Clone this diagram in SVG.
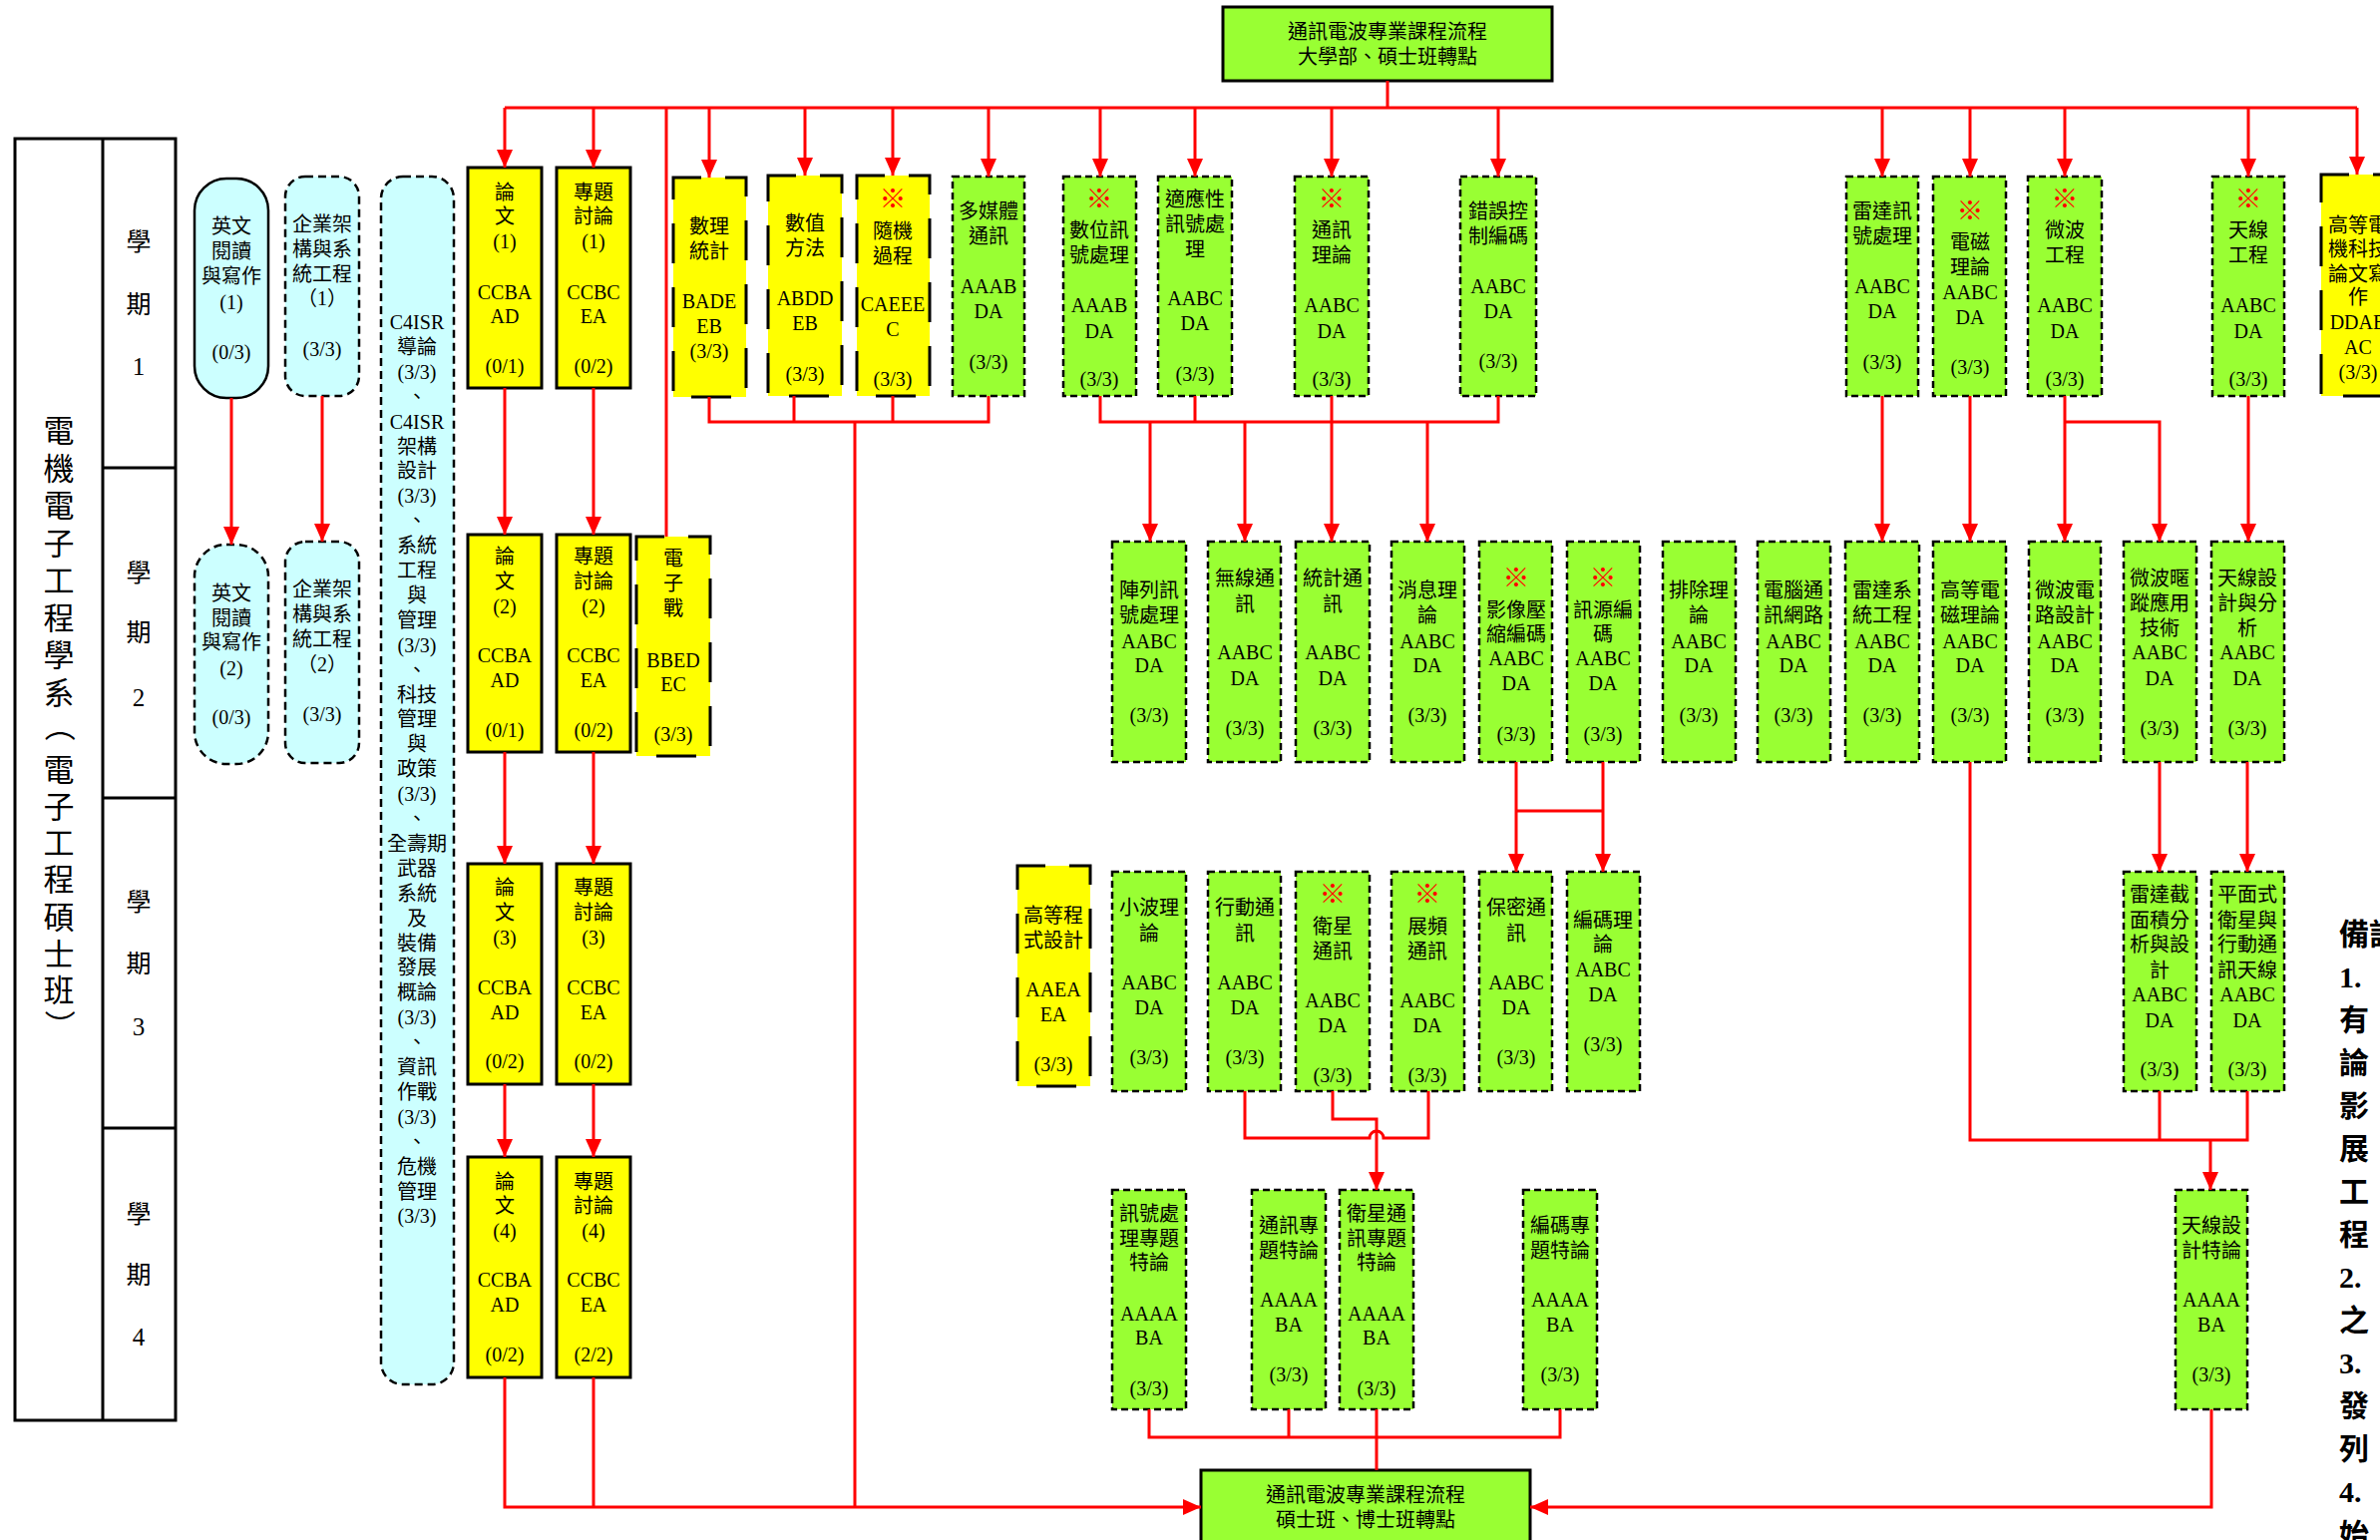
<svg xmlns="http://www.w3.org/2000/svg" width="2386" height="1544" viewBox="0 0 2386 1544">
<style>
.t{font-family:"Liberation Serif","Noto Sans CJK TC",serif;font-size:20px;text-anchor:middle;dominant-baseline:central;fill:#000}
.m{fill:#FF0000;font-size:27px}
.g{fill:#99FF33;stroke:#000;stroke-width:2.5;stroke-dasharray:7 4}
.y{fill:#FFFF00;stroke:#000;stroke-width:3}
.yd{fill:#FFFF00;stroke:#000;stroke-width:3;stroke-dasharray:40 24;stroke-dashoffset:12}
.b{fill:#CCFFFF;stroke:#000;stroke-width:2.5}
.bd{fill:#CCFFFF;stroke:#000;stroke-width:2.5;stroke-dasharray:8 5}
.hub{fill:#99FF33;stroke:#000;stroke-width:3}
.c{fill:none;stroke:#FF0000;stroke-width:3}
.tbl{fill:none;stroke:#000;stroke-width:3}
.lbl{font-family:"Liberation Serif","Noto Sans CJK TC",serif;text-anchor:middle;dominant-baseline:central;fill:#000}
.note{font-family:"Liberation Serif","Noto Sans CJK TC",serif;font-size:30px;font-weight:bold;dominant-baseline:central;fill:#000}
</style>
<defs>
<marker id="ah" markerWidth="18" markerHeight="16" refX="18" refY="8" orient="auto" markerUnits="userSpaceOnUse"><path d="M0,0 L18,8 L0,16 z" fill="#FF0000"/></marker>
</defs>
<rect x="0" y="0" width="2386" height="1544" fill="#FFFFFF"/>

<g id="table">
<rect class="tbl" x="15" y="139" width="161" height="1285"/>
<path class="tbl" d="M103,139 V1424 M103,469 H176 M103,800 H176 M103,1131 H176"/>
<text class="lbl" font-size="31"><tspan x="59" y="432">電</tspan><tspan x="59" y="470">機</tspan><tspan x="59" y="507">電</tspan><tspan x="59" y="545">子</tspan><tspan x="59" y="582">工</tspan><tspan x="59" y="620">程</tspan><tspan x="59" y="657">學</tspan><tspan x="59" y="695">系</tspan></text>
<text class="lbl" font-size="31" transform="translate(59,728) rotate(90)">（</text>
<text class="lbl" font-size="31"><tspan x="59" y="772">電</tspan><tspan x="59" y="809">子</tspan><tspan x="59" y="845">工</tspan><tspan x="59" y="882">程</tspan><tspan x="59" y="920">碩</tspan><tspan x="59" y="957">士</tspan><tspan x="59" y="993">班</tspan></text>
<text class="lbl" font-size="31" transform="translate(59,1028) rotate(90)">）</text>
<text class="lbl" font-size="25"><tspan x="139" y="242">學</tspan><tspan x="139" y="305">期</tspan><tspan x="139" y="367">1</tspan></text>
<text class="lbl" font-size="25"><tspan x="139" y="574">學</tspan><tspan x="139" y="634">期</tspan><tspan x="139" y="699">2</tspan></text>
<text class="lbl" font-size="25"><tspan x="139" y="904">學</tspan><tspan x="139" y="966">期</tspan><tspan x="139" y="1029">3</tspan></text>
<text class="lbl" font-size="25"><tspan x="139" y="1217">學</tspan><tspan x="139" y="1278">期</tspan><tspan x="139" y="1340">4</tspan></text>
</g>

<g id="top-hub"><rect class="hub" x="1226" y="7" width="330" height="74"/><text class="t" font-size="21"><tspan x="1391" y="32">通訊電波專業課程流程</tspan><tspan x="1391" y="57">大學部、碩士班轉點</tspan></text></g>
<g id="bottom-hub"><rect class="hub" x="1204" y="1474" width="330" height="100"/><text class="t" font-size="21"><tspan x="1369" y="1499">通訊電波專業課程流程</tspan><tspan x="1369" y="1524">碩士班、博士班轉點</tspan></text></g>

<g id="eng1"><rect class="b" x="195" y="179" width="74" height="220" rx="32"/><text class="t"><tspan x="232" y="227">英文</tspan><tspan x="232" y="252">閱讀</tspan><tspan x="232" y="277">與寫作</tspan><tspan x="232" y="303">(1)</tspan><tspan x="232" y="353">(0/3)</tspan></text></g>
<g id="ea1"><rect class="bd" x="286" y="177" width="74" height="220" rx="20"/><text class="t"><tspan x="323" y="225">企業架</tspan><tspan x="323" y="250">構與系</tspan><tspan x="323" y="275">統工程</tspan><tspan x="323" y="299">（1）</tspan><tspan x="323" y="350">(3/3)</tspan></text></g>
<g id="c4isr"><rect class="bd" x="382" y="177" width="73" height="1211" rx="22"/><text class="t"><tspan x="418" y="323">C4ISR</tspan><tspan x="418" y="348">導論</tspan><tspan x="418" y="373">(3/3)</tspan><tspan x="418" y="398">、</tspan><tspan x="418" y="423">C4ISR</tspan><tspan x="418" y="448">架構</tspan><tspan x="418" y="472">設計</tspan><tspan x="418" y="497">(3/3)</tspan><tspan x="418" y="522">、</tspan><tspan x="418" y="547">系統</tspan><tspan x="418" y="572">工程</tspan><tspan x="418" y="597">與</tspan><tspan x="418" y="622">管理</tspan><tspan x="418" y="647">(3/3)</tspan><tspan x="418" y="672">、</tspan><tspan x="418" y="697">科技</tspan><tspan x="418" y="721">管理</tspan><tspan x="418" y="746">與</tspan><tspan x="418" y="771">政策</tspan><tspan x="418" y="796">(3/3)</tspan><tspan x="418" y="821">、</tspan><tspan x="418" y="846">全壽期</tspan><tspan x="418" y="871">武器</tspan><tspan x="418" y="896">系統</tspan><tspan x="418" y="921">及</tspan><tspan x="418" y="946">裝備</tspan><tspan x="418" y="970">發展</tspan><tspan x="418" y="995">概論</tspan><tspan x="418" y="1020">(3/3)</tspan><tspan x="418" y="1045">、</tspan><tspan x="418" y="1070">資訊</tspan><tspan x="418" y="1095">作戰</tspan><tspan x="418" y="1120">(3/3)</tspan><tspan x="418" y="1145">、</tspan><tspan x="418" y="1170">危機</tspan><tspan x="418" y="1195">管理</tspan><tspan x="418" y="1219">(3/3)</tspan></text></g>

<g id="thesis1"><rect class="y" x="469" y="168" width="74" height="221"/><text class="t"><tspan x="506" y="193">論</tspan><tspan x="506" y="217">文</tspan><tspan x="506" y="242">(1)</tspan><tspan x="506" y="293">CCBA</tspan><tspan x="506" y="317">AD</tspan><tspan x="506" y="367">(0/1)</tspan></text></g>
<g id="sem1"><rect class="y" x="558" y="168" width="74" height="221"/><text class="t"><tspan x="595" y="193">專題</tspan><tspan x="595" y="217">討論</tspan><tspan x="595" y="242">(1)</tspan><tspan x="595" y="293">CCBC</tspan><tspan x="595" y="317">EA</tspan><tspan x="595" y="367">(0/2)</tspan></text></g>
<g id="stat"><rect class="yd" x="675" y="178" width="73" height="220"/><text class="t"><tspan x="711" y="227">數理</tspan><tspan x="711" y="252">統計</tspan><tspan x="711" y="302">BADE</tspan><tspan x="711" y="327">EB</tspan><tspan x="711" y="352">(3/3)</tspan></text></g>
<g id="numeric"><rect class="yd" x="770" y="176" width="74" height="221"/><text class="t"><tspan x="807" y="224">數值</tspan><tspan x="807" y="249">方法</tspan><tspan x="807" y="299">ABDD</tspan><tspan x="807" y="324">EB</tspan><tspan x="807" y="375">(3/3)</tspan></text></g>
<g id="random"><rect class="yd" x="859" y="176" width="73" height="221"/><text class="t"><tspan class="m" x="895" y="200">※</tspan><tspan x="895" y="232">隨機</tspan><tspan x="895" y="257">過程</tspan><tspan x="895" y="305">CAEEE</tspan><tspan x="895" y="330">C</tspan><tspan x="895" y="380">(3/3)</tspan></text></g>
<g id="multimedia"><rect class="g" x="955" y="177" width="72" height="220"/><text class="t"><tspan x="991" y="212">多媒體</tspan><tspan x="991" y="237">通訊</tspan><tspan x="991" y="287">AAAB</tspan><tspan x="991" y="312">DA</tspan><tspan x="991" y="363">(3/3)</tspan></text></g>
<g id="dsp"><rect class="g" x="1066" y="177" width="73" height="220"/><text class="t"><tspan class="m" x="1102" y="200">※</tspan><tspan x="1102" y="231">數位訊</tspan><tspan x="1102" y="256">號處理</tspan><tspan x="1102" y="306">AAAB</tspan><tspan x="1102" y="332">DA</tspan><tspan x="1102" y="380">(3/3)</tspan></text></g>
<g id="adsp"><rect class="g" x="1161" y="177" width="74" height="220"/><text class="t"><tspan x="1198" y="200">適應性</tspan><tspan x="1198" y="225">訊號處</tspan><tspan x="1198" y="250">理</tspan><tspan x="1198" y="299">AABC</tspan><tspan x="1198" y="324">DA</tspan><tspan x="1198" y="375">(3/3)</tspan></text></g>
<g id="commtheory"><rect class="g" x="1298" y="177" width="74" height="220"/><text class="t"><tspan class="m" x="1335" y="200">※</tspan><tspan x="1335" y="231">通訊</tspan><tspan x="1335" y="256">理論</tspan><tspan x="1335" y="306">AABC</tspan><tspan x="1335" y="332">DA</tspan><tspan x="1335" y="380">(3/3)</tspan></text></g>
<g id="ecc"><rect class="g" x="1464" y="177" width="76" height="220"/><text class="t"><tspan x="1502" y="212">錯誤控</tspan><tspan x="1502" y="237">制編碼</tspan><tspan x="1502" y="287">AABC</tspan><tspan x="1502" y="312">DA</tspan><tspan x="1502" y="362">(3/3)</tspan></text></g>
<g id="radarsp"><rect class="g" x="1851" y="177" width="72" height="220"/><text class="t"><tspan x="1887" y="212">雷達訊</tspan><tspan x="1887" y="237">號處理</tspan><tspan x="1887" y="287">AABC</tspan><tspan x="1887" y="312">DA</tspan><tspan x="1887" y="363">(3/3)</tspan></text></g>
<g id="emtheory"><rect class="g" x="1938" y="177" width="73" height="220"/><text class="t"><tspan class="m" x="1975" y="212">※</tspan><tspan x="1975" y="243">電磁</tspan><tspan x="1975" y="268">理論</tspan><tspan x="1975" y="293">AABC</tspan><tspan x="1975" y="318">DA</tspan><tspan x="1975" y="368">(3/3)</tspan></text></g>
<g id="microwave"><rect class="g" x="2033" y="177" width="74" height="220"/><text class="t"><tspan class="m" x="2070" y="200">※</tspan><tspan x="2070" y="231">微波</tspan><tspan x="2070" y="256">工程</tspan><tspan x="2070" y="306">AABC</tspan><tspan x="2070" y="332">DA</tspan><tspan x="2070" y="380">(3/3)</tspan></text></g>
<g id="antenna"><rect class="g" x="2218" y="177" width="72" height="220"/><text class="t"><tspan class="m" x="2254" y="200">※</tspan><tspan x="2254" y="231">天線</tspan><tspan x="2254" y="256">工程</tspan><tspan x="2254" y="306">AABC</tspan><tspan x="2254" y="332">DA</tspan><tspan x="2254" y="380">(3/3)</tspan></text></g>
<g id="writing"><rect class="yd" x="2327" y="175" width="74" height="222"/><text class="t"><tspan x="2364" y="226">高等電</tspan><tspan x="2364" y="250">機科技</tspan><tspan x="2364" y="275">論文寫</tspan><tspan x="2364" y="298">作</tspan><tspan x="2364" y="323">DDAB</tspan><tspan x="2364" y="348">AC</tspan><tspan x="2364" y="373">(3/3)</tspan></text></g>

<g id="eng2"><rect class="bd" x="195" y="546" width="74" height="220" rx="32"/><text class="t"><tspan x="232" y="595">英文</tspan><tspan x="232" y="620">閱讀</tspan><tspan x="232" y="644">與寫作</tspan><tspan x="232" y="670">(2)</tspan><tspan x="232" y="719">(0/3)</tspan></text></g>
<g id="ea2"><rect class="bd" x="286" y="543" width="74" height="222" rx="20"/><text class="t"><tspan x="323" y="591">企業架</tspan><tspan x="323" y="616">構與系</tspan><tspan x="323" y="641">統工程</tspan><tspan x="323" y="666">（2）</tspan><tspan x="323" y="716">(3/3)</tspan></text></g>
<g id="thesis2"><rect class="y" x="469" y="536" width="74" height="218"/><text class="t"><tspan x="506" y="558">論</tspan><tspan x="506" y="583">文</tspan><tspan x="506" y="608">(2)</tspan><tspan x="506" y="657">CCBA</tspan><tspan x="506" y="682">AD</tspan><tspan x="506" y="732">(0/1)</tspan></text></g>
<g id="sem2"><rect class="y" x="558" y="536" width="74" height="218"/><text class="t"><tspan x="595" y="558">專題</tspan><tspan x="595" y="583">討論</tspan><tspan x="595" y="608">(2)</tspan><tspan x="595" y="657">CCBC</tspan><tspan x="595" y="682">EA</tspan><tspan x="595" y="732">(0/2)</tspan></text></g>
<g id="ew"><rect class="yd" x="638" y="538" width="74" height="220"/><text class="t"><tspan x="675" y="560">電</tspan><tspan x="675" y="585">子</tspan><tspan x="675" y="610">戰</tspan><tspan x="675" y="662">BBED</tspan><tspan x="675" y="686">EC</tspan><tspan x="675" y="736">(3/3)</tspan></text></g>
<g id="array"><rect class="g" x="1115" y="543" width="74" height="221"/><text class="t"><tspan x="1152" y="592">陣列訊</tspan><tspan x="1152" y="617">號處理</tspan><tspan x="1152" y="643">AABC</tspan><tspan x="1152" y="667">DA</tspan><tspan x="1152" y="717">(3/3)</tspan></text></g>
<g id="wireless"><rect class="g" x="1211" y="543" width="73" height="221"/><text class="t"><tspan x="1248" y="580">無線通</tspan><tspan x="1248" y="606">訊</tspan><tspan x="1248" y="654">AABC</tspan><tspan x="1248" y="680">DA</tspan><tspan x="1248" y="730">(3/3)</tspan></text></g>
<g id="statcomm"><rect class="g" x="1299" y="543" width="74" height="221"/><text class="t"><tspan x="1336" y="580">統計通</tspan><tspan x="1336" y="606">訊</tspan><tspan x="1336" y="654">AABC</tspan><tspan x="1336" y="680">DA</tspan><tspan x="1336" y="730">(3/3)</tspan></text></g>
<g id="infotheory"><rect class="g" x="1395" y="543" width="73" height="221"/><text class="t"><tspan x="1431" y="592">消息理</tspan><tspan x="1431" y="617">論</tspan><tspan x="1431" y="643">AABC</tspan><tspan x="1431" y="667">DA</tspan><tspan x="1431" y="717">(3/3)</tspan></text></g>
<g id="imgcoding"><rect class="g" x="1483" y="543" width="73" height="221"/><text class="t"><tspan class="m" x="1520" y="580">※</tspan><tspan x="1520" y="612">影像壓</tspan><tspan x="1520" y="636">縮編碼</tspan><tspan x="1520" y="660">AABC</tspan><tspan x="1520" y="685">DA</tspan><tspan x="1520" y="736">(3/3)</tspan></text></g>
<g id="srccoding"><rect class="g" x="1571" y="543" width="73" height="221"/><text class="t"><tspan class="m" x="1607" y="580">※</tspan><tspan x="1607" y="612">訊源編</tspan><tspan x="1607" y="636">碼</tspan><tspan x="1607" y="660">AABC</tspan><tspan x="1607" y="685">DA</tspan><tspan x="1607" y="736">(3/3)</tspan></text></g>
<g id="queue"><rect class="g" x="1667" y="543" width="73" height="221"/><text class="t"><tspan x="1703" y="592">排除理</tspan><tspan x="1703" y="617">論</tspan><tspan x="1703" y="643">AABC</tspan><tspan x="1703" y="667">DA</tspan><tspan x="1703" y="717">(3/3)</tspan></text></g>
<g id="network"><rect class="g" x="1762" y="543" width="73" height="221"/><text class="t"><tspan x="1798" y="592">電腦通</tspan><tspan x="1798" y="617">訊網路</tspan><tspan x="1798" y="643">AABC</tspan><tspan x="1798" y="667">DA</tspan><tspan x="1798" y="717">(3/3)</tspan></text></g>
<g id="radarsys"><rect class="g" x="1850" y="543" width="74" height="221"/><text class="t"><tspan x="1887" y="592">雷達系</tspan><tspan x="1887" y="617">統工程</tspan><tspan x="1887" y="643">AABC</tspan><tspan x="1887" y="667">DA</tspan><tspan x="1887" y="717">(3/3)</tspan></text></g>
<g id="advem"><rect class="g" x="1938" y="543" width="73" height="221"/><text class="t"><tspan x="1975" y="592">高等電</tspan><tspan x="1975" y="617">磁理論</tspan><tspan x="1975" y="643">AABC</tspan><tspan x="1975" y="667">DA</tspan><tspan x="1975" y="717">(3/3)</tspan></text></g>
<g id="mwcircuit"><rect class="g" x="2034" y="543" width="72" height="221"/><text class="t"><tspan x="2070" y="592">微波電</tspan><tspan x="2070" y="617">路設計</tspan><tspan x="2070" y="643">AABC</tspan><tspan x="2070" y="667">DA</tspan><tspan x="2070" y="717">(3/3)</tspan></text></g>
<g id="mwtrack"><rect class="g" x="2129" y="543" width="73" height="221"/><text class="t"><tspan x="2165" y="580">微波暱</tspan><tspan x="2165" y="605">蹤應用</tspan><tspan x="2165" y="630">技術</tspan><tspan x="2165" y="654">AABC</tspan><tspan x="2165" y="680">DA</tspan><tspan x="2165" y="730">(3/3)</tspan></text></g>
<g id="antdesign"><rect class="g" x="2217" y="543" width="73" height="221"/><text class="t"><tspan x="2253" y="580">天線設</tspan><tspan x="2253" y="605">計與分</tspan><tspan x="2253" y="630">析</tspan><tspan x="2253" y="654">AABC</tspan><tspan x="2253" y="680">DA</tspan><tspan x="2253" y="730">(3/3)</tspan></text></g>

<g id="thesis3"><rect class="y" x="469" y="866" width="74" height="221"/><text class="t"><tspan x="506" y="890">論</tspan><tspan x="506" y="915">文</tspan><tspan x="506" y="940">(3)</tspan><tspan x="506" y="990">CCBA</tspan><tspan x="506" y="1015">AD</tspan><tspan x="506" y="1064">(0/2)</tspan></text></g>
<g id="sem3"><rect class="y" x="558" y="866" width="74" height="221"/><text class="t"><tspan x="595" y="890">專題</tspan><tspan x="595" y="915">討論</tspan><tspan x="595" y="940">(3)</tspan><tspan x="595" y="990">CCBC</tspan><tspan x="595" y="1015">EA</tspan><tspan x="595" y="1064">(0/2)</tspan></text></g>
<g id="advprog"><rect class="yd" x="1020" y="868" width="73" height="221"/><text class="t"><tspan x="1056" y="918">高等程</tspan><tspan x="1056" y="943">式設計</tspan><tspan x="1056" y="992">AAEA</tspan><tspan x="1056" y="1017">EA</tspan><tspan x="1056" y="1067">(3/3)</tspan></text></g>
<g id="wavelet"><rect class="g" x="1115" y="874" width="74" height="220"/><text class="t"><tspan x="1152" y="910">小波理</tspan><tspan x="1152" y="936">論</tspan><tspan x="1152" y="985">AABC</tspan><tspan x="1152" y="1010">DA</tspan><tspan x="1152" y="1060">(3/3)</tspan></text></g>
<g id="mobile"><rect class="g" x="1211" y="874" width="73" height="220"/><text class="t"><tspan x="1248" y="910">行動通</tspan><tspan x="1248" y="936">訊</tspan><tspan x="1248" y="985">AABC</tspan><tspan x="1248" y="1010">DA</tspan><tspan x="1248" y="1060">(3/3)</tspan></text></g>
<g id="satcomm"><rect class="g" x="1299" y="874" width="74" height="220"/><text class="t"><tspan class="m" x="1336" y="897">※</tspan><tspan x="1336" y="929">衛星</tspan><tspan x="1336" y="954">通訊</tspan><tspan x="1336" y="1003">AABC</tspan><tspan x="1336" y="1028">DA</tspan><tspan x="1336" y="1078">(3/3)</tspan></text></g>
<g id="spread"><rect class="g" x="1395" y="874" width="73" height="220"/><text class="t"><tspan class="m" x="1431" y="897">※</tspan><tspan x="1431" y="929">展頻</tspan><tspan x="1431" y="954">通訊</tspan><tspan x="1431" y="1003">AABC</tspan><tspan x="1431" y="1028">DA</tspan><tspan x="1431" y="1078">(3/3)</tspan></text></g>
<g id="secure"><rect class="g" x="1483" y="874" width="73" height="220"/><text class="t"><tspan x="1520" y="910">保密通</tspan><tspan x="1520" y="936">訊</tspan><tspan x="1520" y="985">AABC</tspan><tspan x="1520" y="1010">DA</tspan><tspan x="1520" y="1060">(3/3)</tspan></text></g>
<g id="codingtheory"><rect class="g" x="1571" y="874" width="73" height="220"/><text class="t"><tspan x="1607" y="923">編碼理</tspan><tspan x="1607" y="947">論</tspan><tspan x="1607" y="972">AABC</tspan><tspan x="1607" y="997">DA</tspan><tspan x="1607" y="1047">(3/3)</tspan></text></g>
<g id="rcs"><rect class="g" x="2129" y="874" width="73" height="220"/><text class="t"><tspan x="2165" y="897">雷達截</tspan><tspan x="2165" y="923">面積分</tspan><tspan x="2165" y="947">析與設</tspan><tspan x="2165" y="973">計</tspan><tspan x="2165" y="997">AABC</tspan><tspan x="2165" y="1023">DA</tspan><tspan x="2165" y="1072">(3/3)</tspan></text></g>
<g id="planarant"><rect class="g" x="2217" y="874" width="73" height="220"/><text class="t"><tspan x="2253" y="897">平面式</tspan><tspan x="2253" y="923">衛星與</tspan><tspan x="2253" y="947">行動通</tspan><tspan x="2253" y="973">訊天線</tspan><tspan x="2253" y="997">AABC</tspan><tspan x="2253" y="1023">DA</tspan><tspan x="2253" y="1072">(3/3)</tspan></text></g>

<g id="thesis4"><rect class="y" x="469" y="1160" width="74" height="221"/><text class="t"><tspan x="506" y="1185">論</tspan><tspan x="506" y="1209">文</tspan><tspan x="506" y="1234">(4)</tspan><tspan x="506" y="1283">CCBA</tspan><tspan x="506" y="1308">AD</tspan><tspan x="506" y="1358">(0/2)</tspan></text></g>
<g id="sem4"><rect class="y" x="558" y="1160" width="74" height="221"/><text class="t"><tspan x="595" y="1185">專題</tspan><tspan x="595" y="1209">討論</tspan><tspan x="595" y="1234">(4)</tspan><tspan x="595" y="1283">CCBC</tspan><tspan x="595" y="1308">EA</tspan><tspan x="595" y="1358">(2/2)</tspan></text></g>
<g id="sptopic"><rect class="g" x="1115" y="1193" width="74" height="220"/><text class="t"><tspan x="1152" y="1217">訊號處</tspan><tspan x="1152" y="1242">理專題</tspan><tspan x="1152" y="1266">特論</tspan><tspan x="1152" y="1317">AAAA</tspan><tspan x="1152" y="1341">BA</tspan><tspan x="1152" y="1392">(3/3)</tspan></text></g>
<g id="commtopic"><rect class="g" x="1255" y="1193" width="74" height="220"/><text class="t"><tspan x="1292" y="1229">通訊專</tspan><tspan x="1292" y="1254">題特論</tspan><tspan x="1292" y="1303">AAAA</tspan><tspan x="1292" y="1328">BA</tspan><tspan x="1292" y="1378">(3/3)</tspan></text></g>
<g id="sattopic"><rect class="g" x="1343" y="1193" width="74" height="220"/><text class="t"><tspan x="1380" y="1217">衛星通</tspan><tspan x="1380" y="1242">訊專題</tspan><tspan x="1380" y="1266">特論</tspan><tspan x="1380" y="1317">AAAA</tspan><tspan x="1380" y="1341">BA</tspan><tspan x="1380" y="1392">(3/3)</tspan></text></g>
<g id="codetopic"><rect class="g" x="1527" y="1193" width="74" height="220"/><text class="t"><tspan x="1564" y="1229">編碼專</tspan><tspan x="1564" y="1254">題特論</tspan><tspan x="1564" y="1303">AAAA</tspan><tspan x="1564" y="1328">BA</tspan><tspan x="1564" y="1378">(3/3)</tspan></text></g>
<g id="anttopic"><rect class="g" x="2181" y="1193" width="72" height="220"/><text class="t"><tspan x="2217" y="1229">天線設</tspan><tspan x="2217" y="1254">計特論</tspan><tspan x="2217" y="1303">AAAA</tspan><tspan x="2217" y="1328">BA</tspan><tspan x="2217" y="1378">(3/3)</tspan></text></g>

<g id="connectors" class="c">
<path d="M1391,81 V108 M506,108 H2363"/>
<path marker-end="url(#ah)" d="M506,108 V168"/>
<path marker-end="url(#ah)" d="M595,108 V168"/>
<path marker-end="url(#ah)" d="M711,108 V178"/>
<path marker-end="url(#ah)" d="M807,108 V176"/>
<path marker-end="url(#ah)" d="M895,108 V176"/>
<path marker-end="url(#ah)" d="M991,108 V177"/>
<path marker-end="url(#ah)" d="M1103,108 V177"/>
<path marker-end="url(#ah)" d="M1198,108 V177"/>
<path marker-end="url(#ah)" d="M1335,108 V177"/>
<path marker-end="url(#ah)" d="M1502,108 V177"/>
<path marker-end="url(#ah)" d="M1887,108 V177"/>
<path marker-end="url(#ah)" d="M1975,108 V177"/>
<path marker-end="url(#ah)" d="M2070,108 V177"/>
<path marker-end="url(#ah)" d="M2254,108 V177"/>
<path marker-end="url(#ah)" d="M2363,108 V175"/>
<path d="M668,108 V538"/>
<path marker-end="url(#ah)" d="M232,399 V546"/>
<path marker-end="url(#ah)" d="M323,397 V543"/>
<path marker-end="url(#ah)" d="M506,389 V536"/>
<path marker-end="url(#ah)" d="M595,389 V536"/>
<path marker-end="url(#ah)" d="M506,754 V866"/>
<path marker-end="url(#ah)" d="M595,754 V866"/>
<path marker-end="url(#ah)" d="M506,1087 V1160"/>
<path marker-end="url(#ah)" d="M595,1087 V1160"/>
<path d="M595,1381 V1511"/>
<path marker-end="url(#ah)" d="M506,1381 V1511 H1204"/>
<path d="M711,398 V423 H991 V397 M796,397 V423 M895,397 V423 M857,423 V1511"/>
<path d="M1103,397 V423 H1502 V397 M1198,397 V423"/>
<path marker-end="url(#ah)" d="M1153,423 V543"/>
<path marker-end="url(#ah)" d="M1248,423 V543"/>
<path marker-end="url(#ah)" d="M1431,423 V543"/>
<path marker-end="url(#ah)" d="M1335,397 V543"/>
<path marker-end="url(#ah)" d="M1887,397 V543"/>
<path marker-end="url(#ah)" d="M1975,397 V543"/>
<path marker-end="url(#ah)" d="M2070,397 V543"/>
<path marker-end="url(#ah)" d="M2070,423 H2165 V543"/>
<path marker-end="url(#ah)" d="M2254,397 V543"/>
<path d="M1520,813 H1607"/>
<path marker-end="url(#ah)" d="M1520,764 V874"/>
<path marker-end="url(#ah)" d="M1607,764 V874"/>
<path marker-end="url(#ah)" d="M2165,764 V874"/>
<path marker-end="url(#ah)" d="M2253,764 V874"/>
<path d="M1975,764 V1143 H2253 V1094 M2165,1094 V1143"/>
<path marker-end="url(#ah)" d="M2216,1143 V1193"/>
<path marker-end="url(#ah)" d="M1336,1094 V1122 H1380 V1193"/>
<path d="M1248,1094 V1141 H1373 A7,7 0 0 1 1387,1141 H1432 V1094"/>
<path d="M1152,1413 V1441 H1564 V1413 M1292,1413 V1441 M1380,1413 V1474"/>
<path marker-end="url(#ah)" d="M2217,1413 V1511 H1534"/>
</g>

<g id="notes">
<text class="note"><tspan x="2345" y="936">備註</tspan><tspan x="2345" y="979">1.</tspan><tspan x="2345" y="1022">有</tspan><tspan x="2345" y="1065">論</tspan><tspan x="2345" y="1108">影</tspan><tspan x="2345" y="1151">展</tspan><tspan x="2345" y="1194">工</tspan><tspan x="2345" y="1237">程</tspan><tspan x="2345" y="1280">2.</tspan><tspan x="2345" y="1323">之</tspan><tspan x="2345" y="1366">3.</tspan><tspan x="2345" y="1409">發</tspan><tspan x="2345" y="1452">列</tspan><tspan x="2345" y="1495">4.</tspan><tspan x="2345" y="1538">始</tspan></text>
</g>
</svg>
